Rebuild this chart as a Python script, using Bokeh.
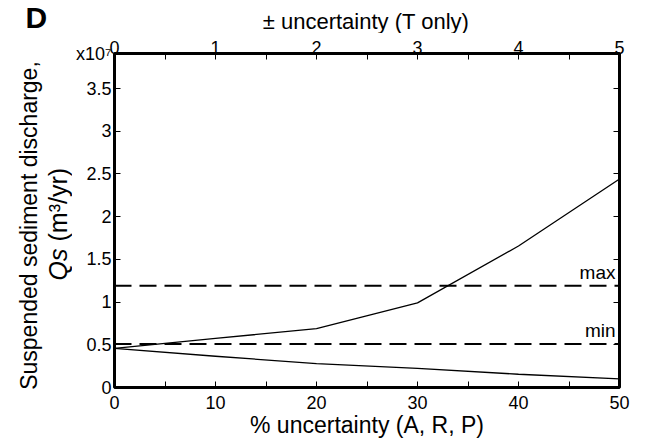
import math
from bokeh.plotting import figure
from bokeh.layouts import column, row
from bokeh.models import LinearAxis, Range1d, FixedTicker, Span, Label
from bokeh.embed import file_html
from bokeh.resources import INLINE

# ---- data ----
pct_uncertainty = [0, 10, 20, 30, 40, 50]
qs_upper = [0.457e7, 0.574e7, 0.69e7, 0.99e7, 1.657e7, 2.44e7]
qs_lower = [0.457e7, 0.366e7, 0.28e7, 0.225e7, 0.155e7, 0.10e7]
qs_max = 1.19e7
qs_min = 0.51e7

bottom_ticks = [0, 10, 20, 30, 40, 50]
bottom_minor = [5, 15, 25, 35, 45]
top_ticks = [0, 1, 2, 3, 4, 5]
top_minor = [0.5, 1.5, 2.5, 3.5, 4.5]
y_ticks = [0, 0.5e7, 1.0e7, 1.5e7, 2.0e7, 2.5e7, 3.0e7, 3.5e7]
y_tick_labels = ["0", "0.5", "1", "1.5", "2", "2.5", "3", "3.5"]
y_top = 3.91e7
y_exponent_label = "x10⁷"

FONT = "Liberation Sans"
W, H = 650, 442
TOP_H = 33
LEFT_W = 72

# ---------------- main plot ----------------
p = figure(width=W - LEFT_W, height=H - TOP_H, output_backend="svg",
           toolbar_location=None,
           x_range=Range1d(0, 50), y_range=Range1d(0, y_top),
           min_border_left=40, min_border_right=31, min_border_top=20,
           min_border_bottom=55, background_fill_color="white",
           border_fill_color="white")
p.frame_align = False
p.grid.visible = False
p.outline_line_color = "black"
p.outline_line_width = 3


def style_axis(ax):
    ax.axis_line_color = None
    ax.major_tick_in = 6
    ax.major_tick_out = 0
    ax.minor_tick_in = 6
    ax.minor_tick_out = 0
    ax.major_tick_line_color = "black"
    ax.minor_tick_line_color = "black"
    ax.major_label_text_font = FONT
    ax.major_label_text_font_size = "18px"
    ax.major_label_text_color = "black"
    ax.axis_label_text_font = FONT
    ax.axis_label_text_font_size = "23px"
    ax.axis_label_text_font_style = "normal"
    ax.axis_label_text_color = "black"


xa = p.xaxis[0]
style_axis(xa)
xa.ticker = FixedTicker(ticks=bottom_ticks, minor_ticks=bottom_minor)
xa.axis_label = "% uncertainty (A, R, P)"
xa.major_label_standoff = 8
xa.axis_label_standoff = 0

ya = p.yaxis[0]
style_axis(ya)
ya.ticker = FixedTicker(ticks=y_ticks + [y_top])
overrides = {v: s for v, s in zip(y_ticks, y_tick_labels)}
overrides[y_top] = y_exponent_label
ya.major_label_overrides = overrides
ya.major_label_standoff = 3

p.extra_x_ranges = {"t": Range1d(0, 5)}
ta = LinearAxis(x_range_name="t")
style_axis(ta)
ta.ticker = FixedTicker(ticks=top_ticks, minor_ticks=top_minor)
ta.major_label_standoff = 0
p.add_layout(ta, "above")

ra = LinearAxis()
style_axis(ra)
ra.ticker = FixedTicker(ticks=y_ticks)
ra.major_label_overrides = {v: "" for v in y_ticks}
ra.major_label_standoff = 0
p.add_layout(ra, "right")

p.line(pct_uncertainty, qs_upper, line_color="black", line_width=1.3)
p.line(pct_uncertainty, qs_lower, line_color="black", line_width=1.3)

for lvl, name in [(qs_max, "max"), (qs_min, "min")]:
    p.add_layout(Span(location=lvl, dimension="width", line_color="black",
                      line_width=2, line_dash="17 8"))
    p.add_layout(Label(x=50, y=lvl, text=name, text_align="right",
                       text_baseline="bottom", x_offset=-4, y_offset=3,
                       text_font=FONT, text_font_size="19px",
                       text_color="black"))


def strip(width, height):
    s = figure(width=width, height=height, output_backend="svg",
               toolbar_location=None, x_axis_location=None,
               y_axis_location=None, min_border=0,
               min_border_left=0, min_border_right=0,
               min_border_top=0, min_border_bottom=0,
               x_range=Range1d(0, 1), y_range=Range1d(0, 1),
               background_fill_color="white", border_fill_color="white")
    s.frame_align = False
    s.outline_line_color = None
    s.grid.visible = False
    return s


def slabel(fig, x, y, text, **kw):
    opts = dict(x=x, y=y, text=text, x_units="screen", y_units="screen",
                text_font=FONT, text_color="black")
    opts.update(kw)
    fig.add_layout(Label(**opts))


# ---------------- top strip: panel letter + top axis title ----------------
top = strip(W, TOP_H)
slabel(top, 25, 16, "D", text_align="left", text_baseline="middle",
       text_font_size="30px", text_font_style="bold")
slabel(top, 365.5, 12.5, "± uncertainty (T only)", text_align="center",
       text_baseline="middle", text_font_size="22px")

# ---------------- left strip: y-axis title ----------------
left = strip(LEFT_W, H - TOP_H)
slabel(left, 28, 217, "Suspended sediment discharge,", angle=math.pi / 2,
       text_align="center", text_baseline="middle", text_font_size="23px")
slabel(left, 57, 162, "Qs", angle=math.pi / 2, text_align="left",
       text_baseline="middle", text_font_size="25px", text_font_style="italic")
slabel(left, 57, 201, "(m³/yr)", angle=math.pi / 2, text_align="left",
       text_baseline="middle", text_font_size="25px")

layout = column(top, row(left, p, spacing=0), spacing=0)
open("out.html", "w").write(file_html(layout, INLINE))
